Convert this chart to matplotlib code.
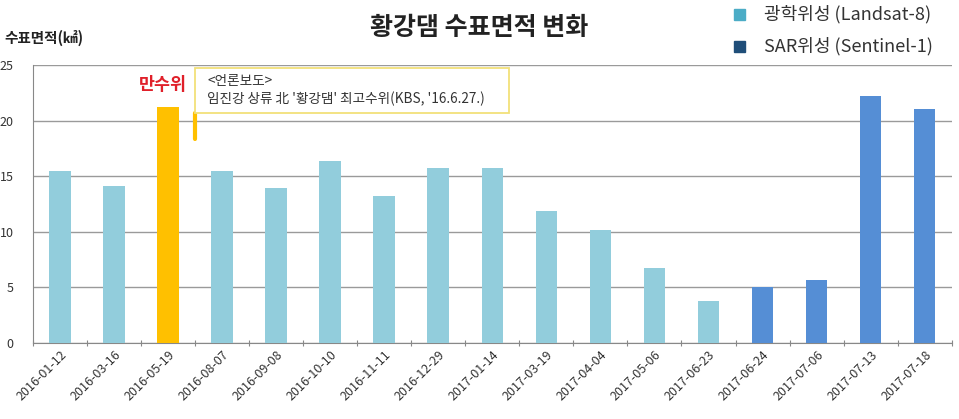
import matplotlib
matplotlib.use('Agg')
import matplotlib.pyplot as plt
import numpy as np

plt.rcParams['font.family'] = ['Noto Sans CJK KR', 'DejaVu Sans']

dates = ['2016-01-12', '2016-03-16', '2016-05-19', '2016-08-07', '2016-09-08',
         '2016-10-10', '2016-11-11', '2016-12-29', '2017-01-14', '2017-03-19',
         '2017-04-04', '2017-05-06', '2017-06-23', '2017-06-24', '2017-07-06',
         '2017-07-13', '2017-07-18']
area = [15.5, 14.1, 21.2, 15.5, 13.9, 16.4, 13.2, 15.7, 15.7, 11.9,
        10.2, 6.7, 3.8, 5.0, 5.7, 22.2, 21.0]
# 'opt' = Landsat-8, 'sar' = Sentinel-1, 'full' = 만수위 highlight
source = ['opt', 'opt', 'full', 'opt', 'opt', 'opt', 'opt', 'opt', 'opt', 'opt',
          'opt', 'opt', 'opt', 'sar', 'sar', 'sar', 'sar']

colors = {'opt': '#92CDDC', 'sar': '#558ED5', 'full': '#FFC000'}

fig = plt.figure(figsize=(9.59, 4.19), dpi=100)
ax = fig.add_axes([0.0344, 0.1814, 0.958, 0.6635])

x = np.arange(len(dates))
ax.bar(x, area, width=0.4, color=[colors[s] for s in source], zorder=3)

ax.set_xlim(-0.5, len(dates) - 0.5)
ax.set_ylim(0, 25)
ax.set_yticks([0, 5, 10, 15, 20, 25])
ax.yaxis.grid(True, color='#9a9a9a', linewidth=1.0, zorder=0)

# category boundary ticks, Excel style
ax.set_xticks(np.arange(-0.5, len(dates) + 0.5, 1), minor=False)
ax.set_xticklabels([])
ax.set_xticks(x, minor=True)
ax.set_xticklabels(dates, minor=True, rotation=45, ha='right',
                   rotation_mode='anchor', fontsize=9, color='#333333')
ax.tick_params(axis='x', which='minor', length=0, pad=4)
ax.tick_params(axis='x', which='major', length=5, color='#888888', direction='inout')
ax.tick_params(axis='y', length=0, labelsize=9, colors='#333333', pad=14)

for s in ['top', 'right']:
    ax.spines[s].set_visible(False)
ax.spines['left'].set_color('#888888')
ax.spines['bottom'].set_color('#888888')

fig.text(0.50, 0.933, '황강댐 수표면적 변화', ha='center', va='center',
         fontsize=18, fontweight='bold', color='#222222')
fig.text(0.005, 0.909, '수표면적(㎢)', ha='left', va='center',
         fontsize=10.5, fontweight='bold', color='#222222')

# legend
fig.patches.append(plt.Rectangle((0.765, 0.952), 0.0115, 0.027, transform=fig.transFigure,
                                 color='#4BACC6', figure=fig))
fig.text(0.797, 0.965, '광학위성 (Landsat-8)', ha='left', va='center', fontsize=13, color='#333333')
fig.patches.append(plt.Rectangle((0.765, 0.876), 0.0115, 0.027, transform=fig.transFigure,
                                 color='#1F4E79', figure=fig))
fig.text(0.797, 0.889, 'SAR위성 (Sentinel-1)', ha='left', va='center', fontsize=13, color='#333333')

# annotation
ax.text(1.9, 23.2, '만수위', ha='center', va='center', fontsize=12.5,
        fontweight='bold', color='#E0202A', zorder=5)
ax.plot([2.5, 2.5], [20.7, 18.3], color='#FFC000', lw=3, zorder=5,
        solid_capstyle='round')
ax.add_patch(plt.Rectangle((2.5, 20.7), 5.8, 4.0, facecolor='white',
                           edgecolor='#F2E07A', lw=1.3, zorder=6, clip_on=False))
ax.text(2.72, 22.75, '<언론보도>\n임진강 상류 北 \'황강댐\' 최고수위(KBS, \'16.6.27.)',
        ha='left', va='center', fontsize=9.8, color='#333333', linespacing=1.25, zorder=7)

fig.savefig('out.png', dpi=100)
